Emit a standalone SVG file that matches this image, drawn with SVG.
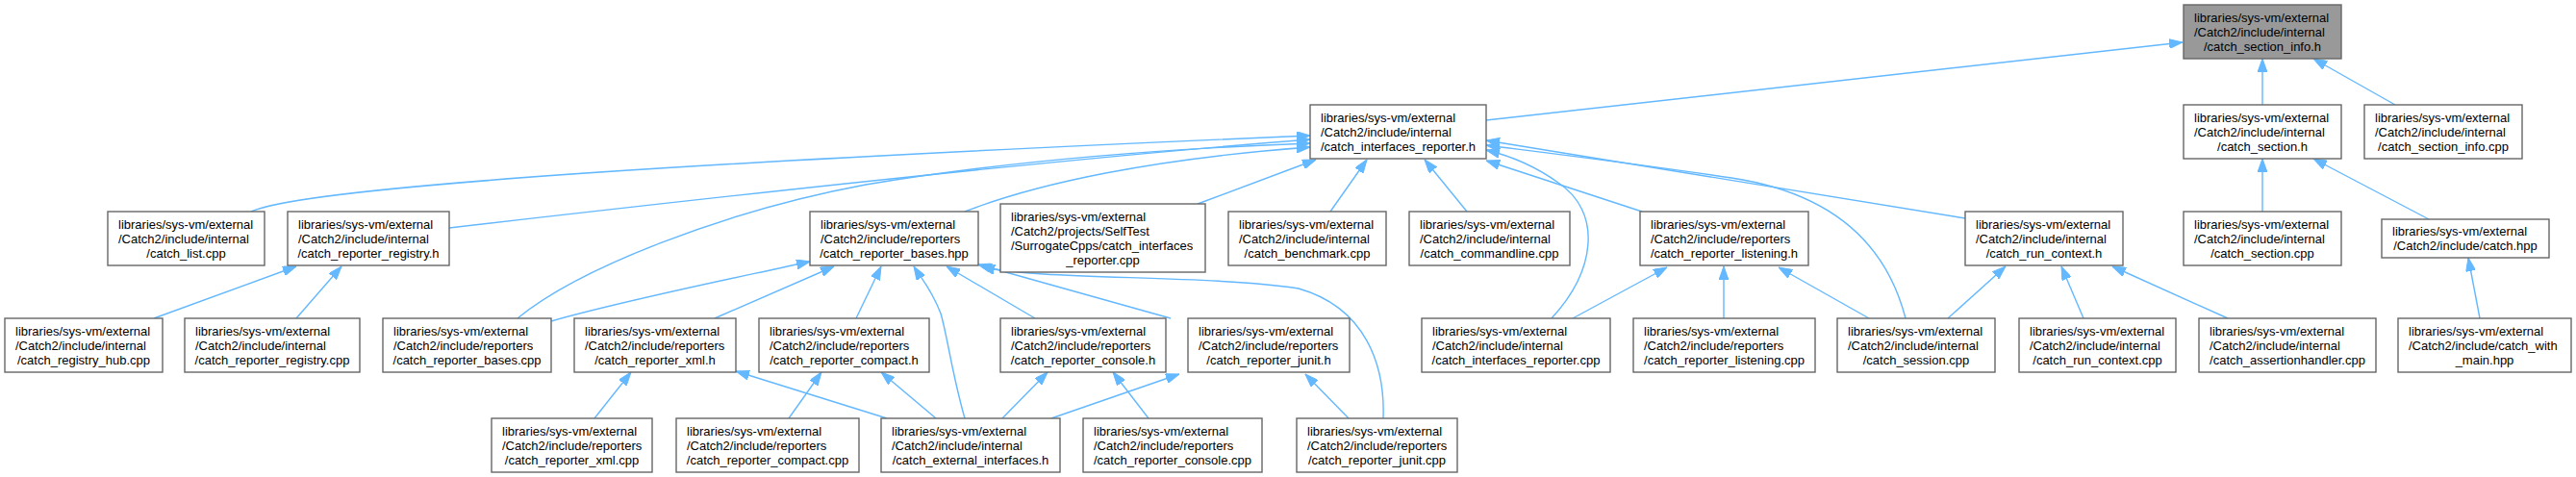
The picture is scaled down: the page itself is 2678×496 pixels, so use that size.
<svg xmlns="http://www.w3.org/2000/svg" width="2678" height="496" viewBox="0 0 2678 496">
<style>
.n rect{fill:#ffffff;stroke:#666666;stroke-width:1.4}
.root rect{fill:#999999}
.n text{font-family:"Liberation Sans",Arial,sans-serif;font-size:13px;fill:#000000}
.m{text-anchor:middle}
#edges path{fill:none;stroke:#63b8ff;stroke-width:1.4;marker-end:url(#ah)}
</style>
<defs>
<marker id="ah" markerUnits="userSpaceOnUse" markerWidth="14" markerHeight="10" viewBox="0 0 14 10" refX="14" refY="5" orient="auto">
<path d="M0,0 L14,5 L0,10 z" fill="#63b8ff" stroke="#63b8ff" stroke-width="1"/>
</marker>
</defs>
<rect width="2678" height="496" fill="#ffffff"/>
<g id="edges">
<path d="M1545,125 L2269,44"/>
<path d="M2352,109 L2352,61"/>
<path d="M2490,109 L2405,61"/>
<path d="M2352,220 L2352,165"/>
<path d="M2525,228 L2405,165"/>
<path d="M2578,331 L2566,268"/>
<path d="M261,220 C320,192 800,165 1362,141"/>
<path d="M467,237 C700,210 1100,165 1362,145"/>
<path d="M538,331 C600,280 750,220 900,192 C1050,167 1200,155 1362,149"/>
<path d="M1003,220 C1080,190 1200,165 1362,153"/>
<path d="M1245,212 L1368,166"/>
<path d="M1383,220 L1421,166"/>
<path d="M1525,220 L1481,166"/>
<path d="M1707,220 L1545,167"/>
<path d="M1613,331 C1660,280 1665,220 1620,190 C1595,172 1570,162 1545,156"/>
<path d="M1981,331 C1960,250 1900,200 1800,185 C1700,170 1600,158 1545,151"/>
<path d="M2043,227 L1545,146"/>
<path d="M160,331 L308,277"/>
<path d="M308,331 L355,277"/>
<path d="M573,334 C650,312 760,290 842,272"/>
<path d="M743,331 L867,277"/>
<path d="M890,331 L916,277"/>
<path d="M1003,435 C990,390 985,350 978,326 C968,300 958,290 950,277"/>
<path d="M1076,331 L984,277"/>
<path d="M1217,331 L1017,275"/>
<path d="M1438,435 C1440,380 1420,320 1350,300 C1250,285 1080,292 1020,277"/>
<path d="M618,435 L656,387"/>
<path d="M922,435 L765,386"/>
<path d="M820,435 L854,387"/>
<path d="M973,435 L916,387"/>
<path d="M1042,435 L1089,387"/>
<path d="M1194,435 L1157,387"/>
<path d="M1093,435 L1226,389"/>
<path d="M1402,435 L1357,389"/>
<path d="M1635,331 L1733,278"/>
<path d="M1792,331 L1792,277"/>
<path d="M1943,331 L1849,278"/>
<path d="M2025,331 L2085,277"/>
<path d="M2166,331 L2143,277"/>
<path d="M2316,331 L2196,277"/>
</g>
<g id="n_section_info_h" class="n root"><rect x="2270" y="5" width="164" height="56"/><text x="2281" y="23">libraries/sys-vm/external</text><text x="2281" y="38">/Catch2/include/internal</text><text class="m" x="2352" y="53">/catch_section_info.h</text></g>
<g id="n_interfaces_reporter_h" class="n"><rect x="1362" y="109" width="183" height="56"/><text x="1373" y="127">libraries/sys-vm/external</text><text x="1373" y="142">/Catch2/include/internal</text><text class="m" x="1453.5" y="157">/catch_interfaces_reporter.h</text></g>
<g id="n_section_h" class="n"><rect x="2270" y="109" width="164" height="56"/><text x="2281" y="127">libraries/sys-vm/external</text><text x="2281" y="142">/Catch2/include/internal</text><text class="m" x="2352" y="157">/catch_section.h</text></g>
<g id="n_section_info_cpp" class="n"><rect x="2458" y="109" width="164" height="56"/><text x="2469" y="127">libraries/sys-vm/external</text><text x="2469" y="142">/Catch2/include/internal</text><text class="m" x="2540" y="157">/catch_section_info.cpp</text></g>
<g id="n_list_cpp" class="n"><rect x="112" y="220" width="163" height="56"/><text x="123" y="238">libraries/sys-vm/external</text><text x="123" y="253">/Catch2/include/internal</text><text class="m" x="193.5" y="268">/catch_list.cpp</text></g>
<g id="n_reporter_registry_h" class="n"><rect x="299" y="220" width="168" height="56"/><text x="310" y="238">libraries/sys-vm/external</text><text x="310" y="253">/Catch2/include/internal</text><text class="m" x="383" y="268">/catch_reporter_registry.h</text></g>
<g id="n_reporter_bases_hpp" class="n"><rect x="842" y="220" width="175" height="56"/><text x="853" y="238">libraries/sys-vm/external</text><text x="853" y="253">/Catch2/include/reporters</text><text class="m" x="929.5" y="268">/catch_reporter_bases.hpp</text></g>
<g id="n_surrogate_cpp" class="n"><rect x="1040" y="212" width="213" height="71"/><text x="1051" y="230">libraries/sys-vm/external</text><text x="1051" y="245">/Catch2/projects/SelfTest</text><text x="1051" y="260">/SurrogateCpps/catch_interfaces</text><text class="m" x="1146.5" y="275">_reporter.cpp</text></g>
<g id="n_benchmark_cpp" class="n"><rect x="1277" y="220" width="164" height="56"/><text x="1288" y="238">libraries/sys-vm/external</text><text x="1288" y="253">/Catch2/include/internal</text><text class="m" x="1359" y="268">/catch_benchmark.cpp</text></g>
<g id="n_commandline_cpp" class="n"><rect x="1465" y="220" width="167" height="56"/><text x="1476" y="238">libraries/sys-vm/external</text><text x="1476" y="253">/Catch2/include/internal</text><text class="m" x="1548.5" y="268">/catch_commandline.cpp</text></g>
<g id="n_reporter_listening_h" class="n"><rect x="1705" y="220" width="175" height="56"/><text x="1716" y="238">libraries/sys-vm/external</text><text x="1716" y="253">/Catch2/include/reporters</text><text class="m" x="1792.5" y="268">/catch_reporter_listening.h</text></g>
<g id="n_run_context_h" class="n"><rect x="2043" y="220" width="164" height="56"/><text x="2054" y="238">libraries/sys-vm/external</text><text x="2054" y="253">/Catch2/include/internal</text><text class="m" x="2125" y="268">/catch_run_context.h</text></g>
<g id="n_section_cpp" class="n"><rect x="2270" y="220" width="164" height="56"/><text x="2281" y="238">libraries/sys-vm/external</text><text x="2281" y="253">/Catch2/include/internal</text><text class="m" x="2352" y="268">/catch_section.cpp</text></g>
<g id="n_catch_hpp" class="n"><rect x="2476" y="228" width="174" height="40"/><text x="2487" y="245">libraries/sys-vm/external</text><text class="m" x="2563" y="260">/Catch2/include/catch.hpp</text></g>
<g id="n_registry_hub_cpp" class="n"><rect x="5" y="331" width="164" height="56"/><text x="16" y="349">libraries/sys-vm/external</text><text x="16" y="364">/Catch2/include/internal</text><text class="m" x="87" y="379">/catch_registry_hub.cpp</text></g>
<g id="n_reporter_registry_cpp" class="n"><rect x="192" y="331" width="182" height="56"/><text x="203" y="349">libraries/sys-vm/external</text><text x="203" y="364">/Catch2/include/internal</text><text class="m" x="283" y="379">/catch_reporter_registry.cpp</text></g>
<g id="n_reporter_bases_cpp" class="n"><rect x="398" y="331" width="175" height="56"/><text x="409" y="349">libraries/sys-vm/external</text><text x="409" y="364">/Catch2/include/reporters</text><text class="m" x="485.5" y="379">/catch_reporter_bases.cpp</text></g>
<g id="n_reporter_xml_h" class="n"><rect x="597" y="331" width="168" height="56"/><text x="608" y="349">libraries/sys-vm/external</text><text x="608" y="364">/Catch2/include/reporters</text><text class="m" x="681" y="379">/catch_reporter_xml.h</text></g>
<g id="n_reporter_compact_h" class="n"><rect x="789" y="331" width="177" height="56"/><text x="800" y="349">libraries/sys-vm/external</text><text x="800" y="364">/Catch2/include/reporters</text><text class="m" x="877.5" y="379">/catch_reporter_compact.h</text></g>
<g id="n_reporter_console_h" class="n"><rect x="1040" y="331" width="172" height="56"/><text x="1051" y="349">libraries/sys-vm/external</text><text x="1051" y="364">/Catch2/include/reporters</text><text class="m" x="1126" y="379">/catch_reporter_console.h</text></g>
<g id="n_reporter_junit_h" class="n"><rect x="1235" y="331" width="168" height="56"/><text x="1246" y="349">libraries/sys-vm/external</text><text x="1246" y="364">/Catch2/include/reporters</text><text class="m" x="1319" y="379">/catch_reporter_junit.h</text></g>
<g id="n_interfaces_reporter_cpp" class="n"><rect x="1478" y="331" width="196" height="56"/><text x="1489" y="349">libraries/sys-vm/external</text><text x="1489" y="364">/Catch2/include/internal</text><text class="m" x="1576" y="379">/catch_interfaces_reporter.cpp</text></g>
<g id="n_reporter_listening_cpp" class="n"><rect x="1698" y="331" width="189" height="56"/><text x="1709" y="349">libraries/sys-vm/external</text><text x="1709" y="364">/Catch2/include/reporters</text><text class="m" x="1792.5" y="379">/catch_reporter_listening.cpp</text></g>
<g id="n_session_cpp" class="n"><rect x="1910" y="331" width="164" height="56"/><text x="1921" y="349">libraries/sys-vm/external</text><text x="1921" y="364">/Catch2/include/internal</text><text class="m" x="1992" y="379">/catch_session.cpp</text></g>
<g id="n_run_context_cpp" class="n"><rect x="2099" y="331" width="163" height="56"/><text x="2110" y="349">libraries/sys-vm/external</text><text x="2110" y="364">/Catch2/include/internal</text><text class="m" x="2180.5" y="379">/catch_run_context.cpp</text></g>
<g id="n_assertionhandler_cpp" class="n"><rect x="2286" y="331" width="184" height="56"/><text x="2297" y="349">libraries/sys-vm/external</text><text x="2297" y="364">/Catch2/include/internal</text><text class="m" x="2378" y="379">/catch_assertionhandler.cpp</text></g>
<g id="n_catch_with_main_hpp" class="n"><rect x="2493" y="331" width="180" height="56"/><text x="2504" y="349">libraries/sys-vm/external</text><text x="2504" y="364">/Catch2/include/catch_with</text><text class="m" x="2583" y="379">_main.hpp</text></g>
<g id="n_reporter_xml_cpp" class="n"><rect x="511" y="435" width="167" height="56"/><text x="522" y="453">libraries/sys-vm/external</text><text x="522" y="468">/Catch2/include/reporters</text><text class="m" x="594.5" y="483">/catch_reporter_xml.cpp</text></g>
<g id="n_reporter_compact_cpp" class="n"><rect x="703" y="435" width="190" height="56"/><text x="714" y="453">libraries/sys-vm/external</text><text x="714" y="468">/Catch2/include/reporters</text><text class="m" x="798" y="483">/catch_reporter_compact.cpp</text></g>
<g id="n_external_interfaces_h" class="n"><rect x="916" y="435" width="186" height="56"/><text x="927" y="453">libraries/sys-vm/external</text><text x="927" y="468">/Catch2/include/internal</text><text class="m" x="1009" y="483">/catch_external_interfaces.h</text></g>
<g id="n_reporter_console_cpp" class="n"><rect x="1126" y="435" width="186" height="56"/><text x="1137" y="453">libraries/sys-vm/external</text><text x="1137" y="468">/Catch2/include/reporters</text><text class="m" x="1219" y="483">/catch_reporter_console.cpp</text></g>
<g id="n_reporter_junit_cpp" class="n"><rect x="1348" y="435" width="167" height="56"/><text x="1359" y="453">libraries/sys-vm/external</text><text x="1359" y="468">/Catch2/include/reporters</text><text class="m" x="1431.5" y="483">/catch_reporter_junit.cpp</text></g>
</svg>
